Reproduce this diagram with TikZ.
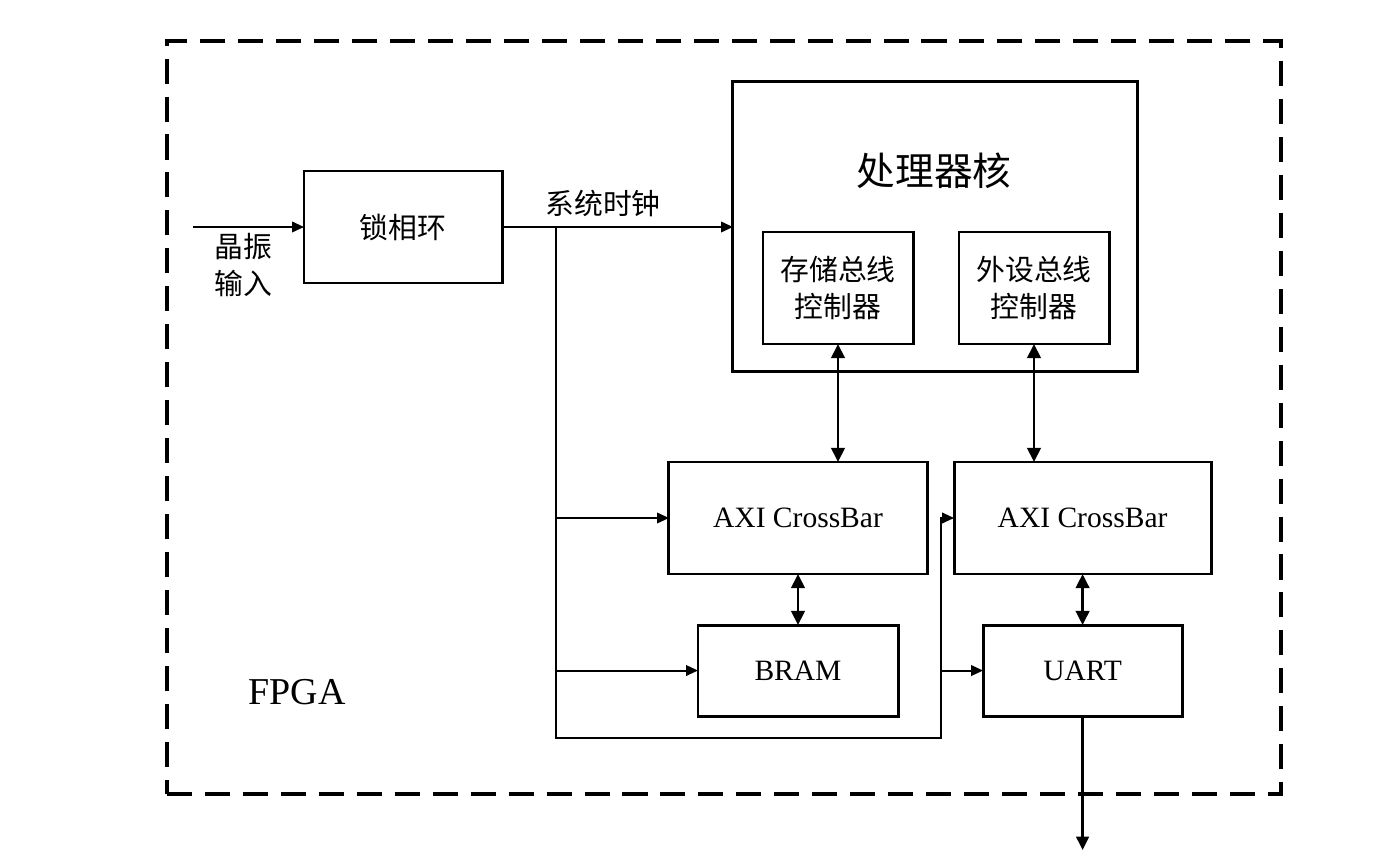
\documentclass[tikz,border=0pt]{standalone}
\usepackage{fontspec}
\setmainfont{Liberation Serif}
\newfontfamily\cjk{Noto Sans CJK SC}
\usetikzlibrary{arrows.meta, positioning}
\newcommand{\cjktext}{\cjk\fontsize{20.5pt}{26pt}\selectfont}
\newcommand{\cjkbig}{\cjk\fontsize{27.5pt}{32pt}\selectfont}
\newcommand{\latintext}{\fontsize{21pt}{26pt}\selectfont}
\tikzset{
  block/.style={draw, line width=2.1pt, align=center, inner sep=0pt, outer sep=0pt, minimum height=2.8cm},
  wire/.style={line width=1.4pt, -{Triangle[length=8.5pt,width=7.5pt]}},
  outwire/.style={line width=1.6pt, -{Triangle[length=9.5pt,width=9pt]}},
  bus/.style={line width=2.1pt, {Triangle[length=10pt,width=9.5pt]}-{Triangle[length=10pt,width=9.5pt]}},
  frame/.style={draw, line width=2.6pt, dash pattern=on 17.8pt off 9.2pt, minimum width=27.85cm, minimum height=18.825cm}
}

\begin{document}
\begin{tikzpicture}[x=0.025cm, y=-0.025cm, node distance=1.275cm]
\useasboundingbox (0,0) rectangle (1394,859);
% FPGA frame
\node[frame] (fpga) at (724,417.5) {};
\node[font=\fontsize{27pt}{30pt}\selectfont] (fpgalabel) at (297,692) {FPGA};
% clock
\node[block, minimum width=4.95cm, font=\cjktext] (pll) at (403,227) {锁相环};
\coordinate (xin) at (193,227);
\node[font=\cjktext, align=center] (xinlabel) at (243,265) {晶振\\输入};
\node[font=\cjktext] (clklabel) at (603,204) {系统时钟};
% processor
\node[block, minimum width=10.1cm, minimum height=7.225cm] (proc) at (935,226.5) {};
\node[font=\cjkbig] (proctitle) at (934,171) {处理器核};
\node[block, minimum width=3.75cm, font=\cjktext] (memctrl) at (838,288) {存储总线\\控制器};
\node[block, minimum width=3.75cm, font=\cjktext] (perctrl) at (1034,288) {外设总线\\控制器};
% buses
\node[block, minimum width=6.45cm, font=\latintext] (xbara) at (798,518) {AXI CrossBar};
\node[block, minimum width=6.425cm, font=\latintext, right=0.675cm of xbara] (xbarb) {AXI CrossBar};
\node[block, minimum width=5cm, minimum height=2.275cm, font=\latintext, below=of xbara] (bram) {BRAM};
\node[block, minimum width=4.975cm, minimum height=2.275cm, font=\latintext, below=of xbarb] (uart) {UART};
\coordinate (clk) at (556,227);
\coordinate (ret) at (941,738);
\coordinate (out) at (1082.5,850);

\draw[wire] (xin) -- (pll.west);
\draw[wire] (pll.east) -- (proc.west |- pll.east);
\draw[wire] (clk) |- (xbara.west);
\draw[wire] (clk) |- (bram.west);
\draw[wire] (clk) |- (ret) |- (xbarb.west);
\draw[wire] (ret |- uart.west) -- (uart.west);
\draw[outwire] (uart.south) -- (uart.south |- out);
\draw[bus] (memctrl.south) -- (memctrl.south |- xbara.north);
\draw[bus] (perctrl.south) -- (perctrl.south |- xbarb.north);
\draw[bus] (xbara.south) -- (xbara.south |- bram.north);
\draw[bus] (xbarb.south) -- (uart.north);
\end{tikzpicture}
\end{document}
